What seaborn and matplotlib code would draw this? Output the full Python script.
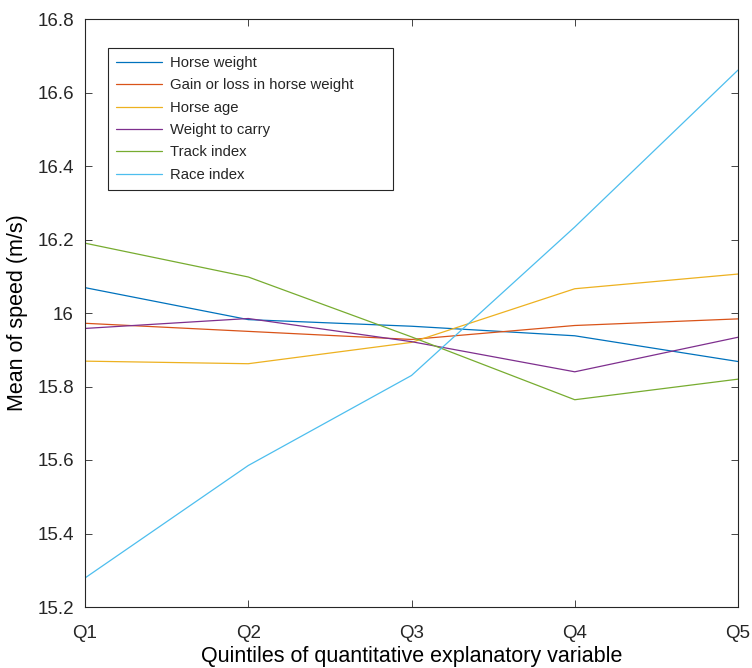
import matplotlib
matplotlib.use("Agg")
import matplotlib.pyplot as plt
import seaborn as sns
import pandas as pd

quintiles = ["Q1", "Q2", "Q3", "Q4", "Q5"]
horse_weight = [16.069, 15.982, 15.964, 15.938, 15.868]
gain_loss = [15.972, 15.950, 15.928, 15.966, 15.984]
horse_age = [15.869, 15.862, 15.920, 16.066, 16.106]
weight_to_carry = [15.958, 15.985, 15.922, 15.840, 15.934]
track_index = [16.190, 16.098, 15.935, 15.764, 15.820]
race_index = [15.279, 15.585, 15.830, 16.234, 16.661]

series_names = ["Horse weight", "Gain or loss in horse weight", "Horse age",
                "Weight to carry", "Track index", "Race index"]
series_values = [horse_weight, gain_loss, horse_age, weight_to_carry,
                 track_index, race_index]
colors = ["#0072BD", "#D95319", "#EDB120", "#7E2F8E", "#77AC30", "#4DBEEE"]

rows = []
for name, vals in zip(series_names, series_values):
    for q, v in zip(quintiles, vals):
        rows.append({"quintile": q, "speed": v, "variable": name})
df = pd.DataFrame(rows)

sns.set_theme(style="white")
plt.rcParams["font.family"] = ["Liberation Sans", "DejaVu Sans"]

fig = plt.figure(figsize=(7.52, 6.68), dpi=100)
ax = fig.add_axes([85 / 752, 1 - 607 / 668, (738 - 85) / 752, (607 - 19) / 668])

sns.lineplot(data=df, x="quintile", y="speed", hue="variable",
             hue_order=series_names, palette=colors, linewidth=0.9,
             sort=False, ax=ax)

ax.set_xlim(0, 4)
ax.set_ylim(15.2, 16.8)
ax.set_xticks(range(5))
ax.set_xticklabels(quintiles)
ax.set_yticks([15.2, 15.4, 15.6, 15.8, 16.0, 16.2, 16.4, 16.6, 16.8])
ax.set_yticklabels(["15.2", "15.4", "15.6", "15.8", "16", "16.2", "16.4", "16.6", "16.8"])

for side in ["left", "right", "top", "bottom"]:
    ax.spines[side].set_visible(True)
    ax.spines[side].set_color("#262626")
    ax.spines[side].set_linewidth(0.8)
ax.tick_params(direction="in", length=5, width=0.6, color="#262626",
               labelsize=13.5, labelcolor="#262626", top=True, right=True,
               left=True, bottom=True)
ax.tick_params(axis="x", pad=13)
ax.tick_params(axis="y", pad=8)

ax.set_xlabel("Quintiles of quantitative explanatory variable", fontsize=15.5,
              color="black", labelpad=3)
ax.set_ylabel("Mean of speed (m/s)", fontsize=15.5, color="black", labelpad=7)

leg = ax.legend(loc="upper left", bbox_to_anchor=(0.0352, 0.9507 - 0.2398, 0.4365, 0.2398),
                mode="expand", frameon=True,
                fancybox=False, edgecolor="#262626", framealpha=1,
                prop={"size": 10.7},
                handlelength=3.1, handletextpad=0.5, labelspacing=0.56,
                borderpad=0.55, borderaxespad=0)
leg.get_frame().set_linewidth(0.8)

fig.savefig("out.png", dpi=100)
